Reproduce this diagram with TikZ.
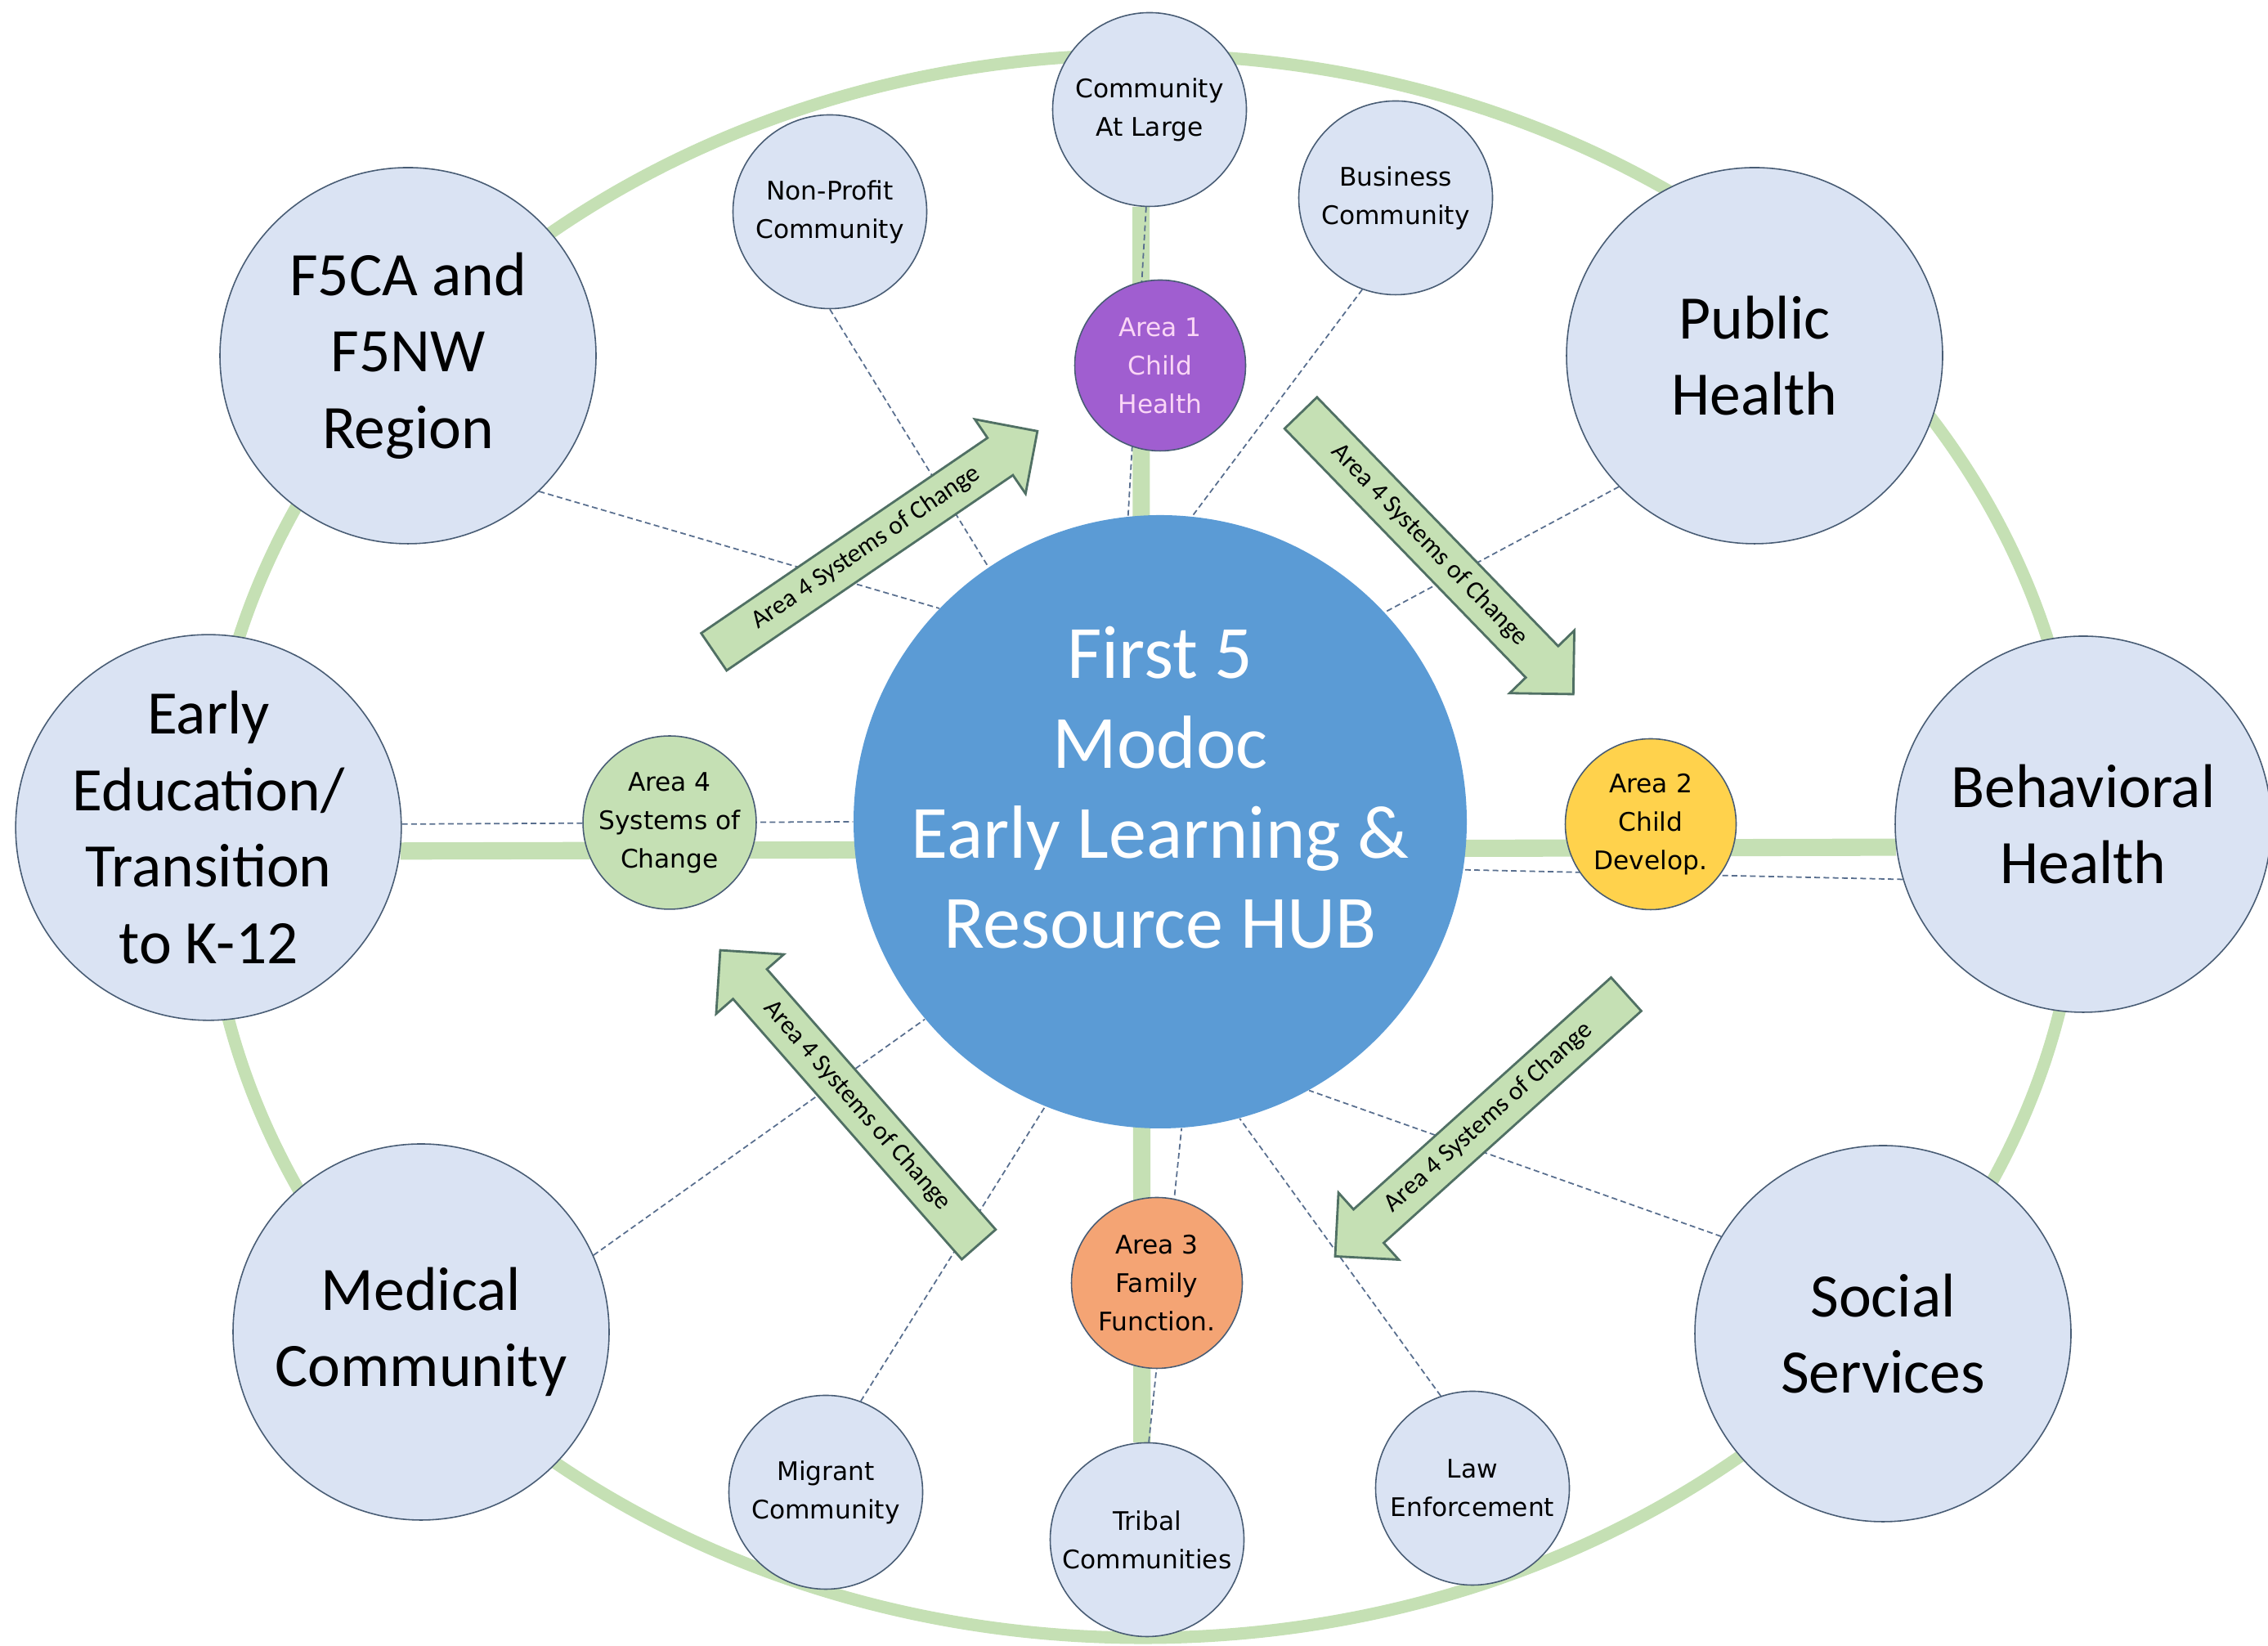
\documentclass[tikz,border=0pt]{standalone}
\usepackage{fontspec}
\setmainfont{Carlito}
\newfontfamily\tahoma{DejaVu Sans}
\usepackage{tikz}
\usetikzlibrary{shapes.arrows}
\definecolor{hubblue}{RGB}{91,155,213}
\definecolor{paleblue}{RGB}{218,227,243}
\definecolor{rimgray}{RGB}{72,92,116}
\definecolor{ringgreen}{RGB}{197,224,180}
\definecolor{arrowedge}{RGB}{80,112,100}
\definecolor{linkblue}{RGB}{88,110,142}
\definecolor{areapurple}{RGB}{160,94,208}
\definecolor{areapink}{RGB}{250,214,246}
\definecolor{areayellow}{RGB}{255,210,76}
\definecolor{areaorange}{RGB}{244,164,116}
\pgfdeclarelayer{back}
\pgfsetlayers{back,main}

\begin{document}
\begin{tikzpicture}[
  bigcirc/.style={circle,draw=rimgray,line width=0.45pt,fill=paleblue,minimum size=4.6cm,inner sep=0pt,align=center,font=\fontsize{21.5}{26.6}\selectfont},
  smallcirc/.style={circle,draw=rimgray,line width=0.45pt,fill=paleblue,minimum size=2.37cm,inner sep=0pt,align=center,font=\tahoma\fontsize{8.9}{13.4}\selectfont},
  areacirc/.style={smallcirc,minimum size=2.09cm},
  hubcirc/.style={circle,fill=hubblue,minimum size=7.5cm,inner sep=0pt},
  hubtext/.style={text=white,align=center,font=\fontsize{26.2}{31.3}\selectfont},
  sysarrow/.style={single arrow,draw=arrowedge,line width=0.8pt,fill=ringgreen,minimum height=4.79cm,single arrow head extend=0.275cm,text height=6.5pt,text depth=2pt,inner ysep=3.2pt,anchor=tail,font=\fontsize{9}{10}\selectfont},
  dashlink/.style={draw=linkblue,line width=0.5pt,dash pattern=on 2pt off 1.2pt},
  spoke/.style={draw=ringgreen,line width=6pt},
  ringline/.style={draw=ringgreen,line width=4.3pt}
]
\useasboundingbox (0,0) rectangle (27.74,20.13);

% Hub in the middle
\node[hubcirc] (hub) at (14.19,10.08) {};
\node[hubtext] (hubtxt) at ([yshift=4.2mm]hub.center) {First 5\\Modoc\\Early Learning \&\\Resource HUB};

% === Partner circles on the ring ===
\node[bigcirc] (f5) at (4.99,15.78) {F5CA and\\F5NW\\Region};
\node[bigcirc] (ph) at (21.46,15.78) {Public\\Health};
\node[bigcirc] (ee) at (2.55,10.01) {Early\\Education/\\Transition\\to K-12};
\node[bigcirc] (bh) at (25.48,10.05) {Behavioral\\Health};
\node[bigcirc] (med) at (5.15,3.84) {Medical\\Community};
\node[bigcirc] (ss) at (23.03,3.82) {Social\\Services};

% === Community circles ===
\node[smallcirc] (cal) at (14.06,18.79) {Community\\At Large};
\node[smallcirc] (np) at (10.15,17.54) {Non-Profit\\Community};
\node[smallcirc] (biz) at (17.07,17.71) {Business\\Community};
\node[smallcirc] (mig) at (10.10,1.88) {Migrant\\Community};
\node[smallcirc] (tr) at (14.03,1.30) {Tribal\\Communities};
\node[smallcirc] (law) at (18.01,1.93) {Law\\Enforcement};

% === Focus areas ===
\node[areacirc,fill=areapurple,text=areapink] (a1) at (14.19,15.66) {Area 1\\Child\\Health};
\node[areacirc,fill=areayellow] (a2) at (20.19,10.05) {Area 2\\Child\\Develop.};
\node[areacirc,fill=areaorange] (a3) at (14.15,4.44) {Area 3\\Family\\Function.};
\node[areacirc,fill=ringgreen] (a4) at (8.19,10.07) {Area 4\\Systems of\\Change};

% Ring, spokes and links behind everything
\begin{pgfonlayer}{back}
\draw[ringline] (13.98,9.78) ellipse [x radius=11.46, y radius=9.68];
\draw[spoke] (ee.-7) -- (bh.-173);
\draw[spoke] (cal.-95) -- (tr.93);
\draw[dashlink] (f5.-46) -- (hub.136);
\draw[dashlink] (np.south) -- (hub.124);
\draw[dashlink] (cal.-92) -- (hub.96);
\draw[dashlink] (biz.-110) -- (hub.84);
\draw[dashlink] (ph.-136) -- (hub.43);
\draw[dashlink] (ee.1) -- (hub.180);
\draw[dashlink] (bh.-163) -- (hub.-9);
\draw[dashlink] (med.24) -- (hub.-140);
\draw[dashlink] (mig.69) -- (hub.-112);
\draw[dashlink] (tr.89) -- (hub.-86);
\draw[dashlink] (law.109) -- (hub.-75);
\draw[dashlink] (ss.149) -- (hub.-61);
\end{pgfonlayer}

% Systems of change arrows
\node[sysarrow,rotate=34.3] (arNE) at (8.72,12.15) {Area 4 Systems of Change};
\node[sysarrow,rotate=-45.9] (arSE) at (15.90,15.09) {Area 4 Systems of Change};
\node[sysarrow,rotate=-48.7,shape border rotate=180] (arNW) at (11.98,4.90) {Area 4 Systems of Change};
\node[sysarrow,rotate=42,shape border rotate=180] (arSW) at (19.90,7.98) {Area 4 Systems of Change};

\end{tikzpicture}
\end{document}
